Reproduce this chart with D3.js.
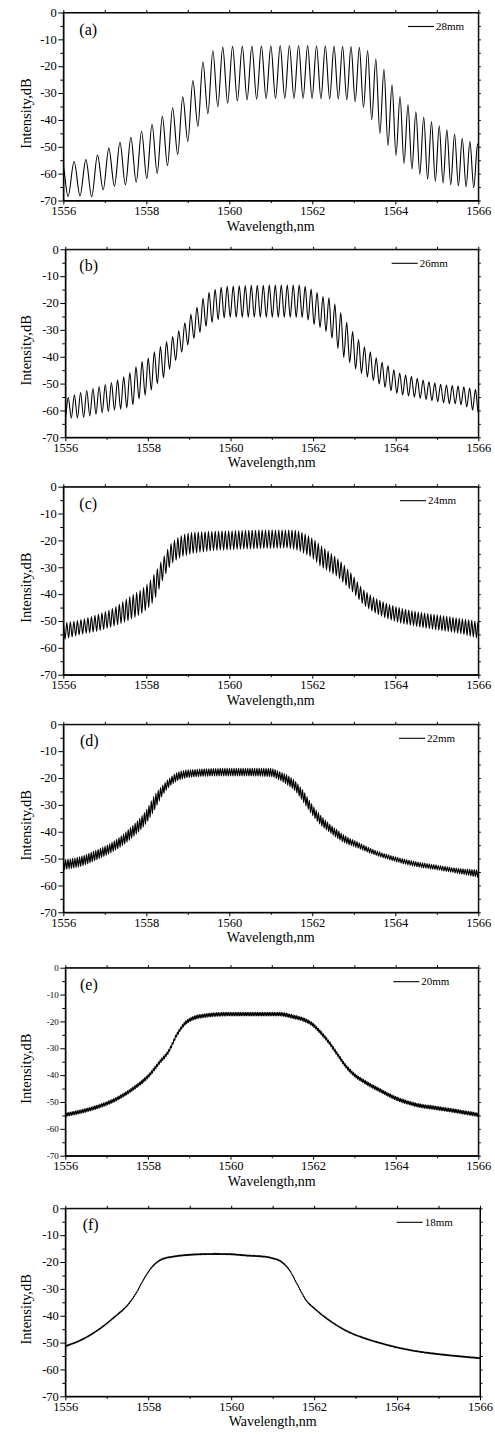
<!DOCTYPE html>
<html>
<head>
<meta charset="utf-8">
<script src="https://cdn.jsdelivr.net/npm/d3@7"></script>
<style>
  body { margin: 0; background: #fff; }
  text { font-family: "Liberation Serif", "Times New Roman", serif; fill: #000; }
</style>
</head>
<body>
<svg id="fig" width="495" height="1436"></svg>
<script>
// ---- data ----
const panelLabels = ["(a)", "(b)", "(c)", "(d)", "(e)", "(f)"];
const gratingLengths = ["28mm", "26mm", "24mm", "22mm", "20mm", "18mm"];
const xTickValues = [1556, 1558, 1560, 1562, 1564, 1566];
const xMinorValues = [1557, 1559, 1561, 1563, 1565];
const yTickValues = [0, -10, -20, -30, -40, -50, -60, -70];
const yMinorValues = [-5, -15, -25, -35, -45, -55, -65];

// envelopes (upper = fringe peaks, lower = fringe troughs), dB
const wlA = [1556, 1556.3, 1556.6, 1556.9, 1557.2, 1557.5, 1557.8, 1558.1, 1558.4, 1558.7, 1558.9, 1559.1, 1559.3, 1559.5, 1559.7, 1559.9, 1560.5, 1561.5, 1562.5, 1563.0, 1563.3, 1563.5, 1563.7, 1563.9, 1564.1, 1564.3, 1564.5, 1564.8, 1565.1, 1565.4, 1565.7, 1566];
const hiA = [-55, -55.5, -54.5, -52.5, -49.5, -47.5, -45, -42, -38.5, -34.5, -31, -26, -20, -15.5, -13.5, -12.8, -12.5, -12.3, -12.5, -12.8, -13.8, -16.8, -20.5, -26.4, -31, -34.3, -37, -40, -42.5, -45, -47.5, -49];
const loA = [-69, -68, -69, -66.5, -64.8, -64.2, -63, -61.2, -58.5, -53.8, -50.3, -45.7, -41.2, -37.5, -35.3, -34, -32.4, -32, -32.2, -33, -36.5, -41.8, -46.8, -51, -54.6, -57.3, -59.3, -62.2, -63.3, -64.3, -64.9, -65.4];

const wlB = [1556, 1556.4, 1556.8, 1557.2, 1557.6, 1557.8, 1558, 1558.2, 1558.4, 1558.6, 1558.8, 1559, 1559.2, 1559.4, 1559.6, 1559.8, 1560, 1561.7, 1561.9, 1562.05, 1562.2, 1562.4, 1562.57, 1562.73, 1562.9, 1563.05, 1563.2, 1563.38, 1563.54, 1563.7, 1563.86, 1564.02, 1564.4, 1564.8, 1565.2, 1565.6, 1566];
const hiB = [-55.5, -53.2, -51.2, -49.1, -45.5, -42.4, -40.6, -37.5, -35, -32.5, -29.4, -25, -21.3, -17, -15.1, -14.1, -13.7, -13.3, -14.5, -15.5, -17.4, -18.2, -21.3, -25, -29.4, -32.5, -35.6, -38.1, -40.6, -42.4, -43.7, -45.5, -47.4, -49.3, -50.5, -51.1, -52.4];
const loB = [-62.9, -62.7, -61.2, -59.9, -58.3, -55.5, -53.6, -50.5, -47.4, -43, -38.7, -35, -31.9, -28.8, -26.9, -25.7, -25.3, -25.3, -26.5, -28.3, -29.4, -31.9, -36.2, -40, -42.4, -44.9, -46.5, -48.2, -49.6, -51, -52.5, -53.6, -54.9, -56.1, -57.3, -58, -61];

const wlC = [1556, 1556.4, 1556.8, 1557.2, 1557.6, 1558, 1558.2, 1558.4, 1558.6, 1558.8, 1559, 1559.4, 1560, 1561.4, 1561.6, 1561.8, 1562, 1562.2, 1562.4, 1562.6, 1562.8, 1563, 1563.2, 1563.4, 1563.6, 1564, 1564.5, 1565, 1565.5, 1566];
const hiC = [-50.8, -49.6, -47.7, -45.2, -40.9, -36.6, -32.2, -26.6, -21.1, -18.6, -17.3, -16.7, -16.4, -16.1, -16.3, -17.3, -19.2, -21.7, -24.2, -26.6, -29.7, -33.5, -37.8, -40.3, -42.1, -44.6, -46.5, -47.7, -48.9, -50.2];
const loC = [-57, -55.1, -53.9, -52, -49.6, -45.9, -42.1, -34.7, -29.1, -26.6, -25.4, -24.2, -23.5, -22.9, -23.5, -24.8, -26.6, -29.7, -31.6, -33.5, -36.6, -39.7, -43.4, -45.9, -47.7, -50.2, -52, -53.3, -54.5, -56.5];

const wlD = [1556, 1556.4, 1556.8, 1557.2, 1557.6, 1558, 1558.2, 1558.4, 1558.6, 1558.8, 1559.2, 1560, 1561, 1561.2, 1561.4, 1561.6, 1561.8, 1562, 1562.2, 1562.4, 1562.6, 1562.8, 1563, 1563.5, 1564, 1564.5, 1565, 1565.5, 1566];
const hiD = [-50.5, -49.3, -46.8, -43.7, -38.7, -31.9, -26.3, -22.6, -19.5, -17.6, -16.8, -16.4, -16.4, -17.6, -18.9, -21.3, -25.1, -30, -33.8, -36.9, -39.3, -41.6, -43.1, -46.8, -49.3, -51.1, -52.4, -53.6, -54.2];
const loD = [-54.2, -53, -50.5, -47.4, -43.1, -36.9, -31.9, -26.3, -22.6, -20.7, -19.5, -19.2, -19.5, -20.7, -22.6, -25.1, -29.4, -33.8, -37.5, -40, -42.4, -44.3, -45.5, -48.6, -51.1, -53, -54.2, -55.5, -57];

const wlE = [1556, 1556.4, 1556.8, 1557.2, 1557.6, 1558, 1558.3, 1558.5, 1558.7, 1558.9, 1559.1, 1559.4, 1560, 1561.2, 1561.5, 1561.8, 1562, 1562.2, 1562.4, 1562.6, 1562.8, 1563, 1563.3, 1563.6, 1564, 1564.5, 1565, 1565.5, 1566];
const hiE = [-54.1, -52.8, -51, -48.5, -44.8, -39.8, -34.2, -30.5, -24.3, -20, -18.1, -17.1, -16.6, -16.6, -17.5, -18.8, -20.6, -23.7, -27.4, -31.8, -36.1, -39.2, -42.3, -44.8, -47.9, -50.4, -51.6, -52.8, -54.1];
const loE = [-55.5, -54.2, -52.4, -49.9, -46.2, -41.2, -35.6, -31.9, -25.7, -21.4, -19.5, -18.5, -18, -18, -18.9, -20.2, -22, -25.1, -28.8, -33.2, -37.5, -40.6, -43.7, -46.2, -49.3, -51.8, -53, -54.2, -55.5];

const wlF = [1556, 1556.4, 1556.8, 1557.2, 1557.5, 1557.7, 1557.9, 1558.1, 1558.3, 1558.6, 1559, 1559.6, 1560, 1560.4, 1560.8, 1561.0, 1561.2, 1561.4, 1561.6, 1561.8, 1562, 1562.4, 1562.8, 1563.2, 1563.6, 1564, 1564.5, 1565, 1565.5, 1566];
const hiF = [-51.2, -48.7, -45, -40.1, -35.9, -31.6, -26, -21.5, -19, -17.8, -17.1, -16.8, -16.9, -17.4, -17.8, -18.4, -19.6, -22.7, -28.3, -33.9, -37, -41.9, -45.6, -48.1, -50, -51.6, -53.1, -54.1, -54.9, -55.6];
const loF = [-51.6, -49.1, -45.4, -40.5, -36.3, -32, -26.4, -21.9, -19.4, -18.2, -17.5, -17.2, -17.3, -17.8, -18.2, -18.8, -20, -23.1, -28.7, -34.3, -37.4, -42.3, -46, -48.5, -50.4, -52, -53.5, -54.5, -55.3, -56];

// fringe spacing (nm) read at a few wavelengths, and the first peak position
const perWlA = [1556, 1558, 1560, 1561.5, 1563, 1565, 1566];
const perA = [0.29, 0.25, 0.235, 0.22, 0.2, 0.185, 0.185];
const perWlB = [1556, 1566];
const perB = [0.15, 0.14];
const perWlC = [1556, 1566];
const perC = [0.085, 0.075];
const perWlD = [1556, 1566];
const perD = [0.056, 0.054];
const perWlE = [1556, 1566];
const perE = [0.042, 0.04];
const perWlF = [1556, 1566];
const perF = [0.03, 0.03];
const firstPeak = [1555.97, 1556.07, 1556.0, 1556.0, 1556.0, 1556.0];

const wls = [wlA, wlB, wlC, wlD, wlE, wlF];
const his = [hiA, hiB, hiC, hiD, hiE, hiF];
const los = [loA, loB, loC, loD, loE, loF];
const perWls = [perWlA, perWlB, perWlC, perWlD, perWlE, perWlF];
const pers = [perA, perB, perC, perD, perE, perF];

// ---- layout ----
const plotTop = [12.5, 249.3, 486.7, 724.3, 967.7, 1208.3];
const plotLeft = [63.3, 65.3, 63.3, 63.3, 65.3, 65.3];
const plotRight = [478.3, 478.3, 478.3, 478.3, 478.3, 480];
const plotH = 188;
const legendX = [408, 391.7, 400, 399, 393.3, 396.7];
const labelX = [79.3, 79.3, 79.3, 80, 80, 82.7];
const yTickFont = [12.5, 12.5, 12.5, 12.5, 9, 12.5];

const svg = d3.select("#fig");

// smooth monotone cubic through the read envelope samples
function smoothEnvelope(xs, ys) {
  const n = xs.length, d = [], t = [];
  for (let k = 0; k < n - 1; k++) d.push((ys[k + 1] - ys[k]) / (xs[k + 1] - xs[k]));
  t[0] = d[0]; t[n - 1] = d[n - 2];
  for (let k = 1; k < n - 1; k++) t[k] = d[k - 1] * d[k] <= 0 ? 0 : (d[k - 1] + d[k]) / 2;
  for (let k = 0; k < n - 1; k++) {
    if (d[k] === 0) { t[k] = 0; t[k + 1] = 0; continue; }
    const a = t[k] / d[k], b = t[k + 1] / d[k], s = a * a + b * b;
    if (s > 9) { const tau = 3 / Math.sqrt(s); t[k] = tau * a * d[k]; t[k + 1] = tau * b * d[k]; }
  }
  return function(v) {
    if (v <= xs[0]) return ys[0];
    if (v >= xs[n - 1]) return ys[n - 1];
    const k = Math.min(d3.bisectRight(xs, v) - 1, n - 2);
    const h = xs[k + 1] - xs[k], s = (v - xs[k]) / h;
    const s2 = s * s, s3 = s2 * s;
    return (2 * s3 - 3 * s2 + 1) * ys[k] + (s3 - 2 * s2 + s) * h * t[k] +
      (-2 * s3 + 3 * s2) * ys[k + 1] + (s3 - s2) * h * t[k + 1];
  };
}

function fringePoints(i) {
  const hiS = smoothEnvelope(wls[i], his[i]);
  const loS = smoothEnvelope(wls[i], los[i]);
  const perS = d3.scaleLinear().domain(perWls[i]).range(pers[i]).clamp(true);
  const pts = [];
  let p = firstPeak[i];
  while (p > 1555.9) p -= perS(p);
  while (p < 1566.3) {
    const d = perS(p);
    pts.push([p, hiS(p)]);
    pts.push([p + d / 2, loS(p + d / 2)]);
    p += d;
  }
  return pts;
}

panelLabels.forEach(function(lab, i) {
  const top = plotTop[i], left = plotLeft[i], right = plotRight[i];
  const x = d3.scaleLinear().domain([1556, 1566]).range([left, right]);
  const y = d3.scaleLinear().domain([-70, 0]).range([top + plotH, top]);
  const g = svg.append("g");

  g.append("clipPath").attr("id", "clip" + i)
    .append("rect").attr("x", left).attr("y", top).attr("width", right - left).attr("height", plotH);

  const line = d3.line().x(d => x(d[0])).y(d => y(d[1])).curve(d3.curveMonotoneX);
  g.append("path")
    .datum(fringePoints(i))
    .attr("clip-path", "url(#clip" + i + ")")
    .attr("fill", "none")
    .attr("stroke", "#000")
    .attr("stroke-width", 1.1)
    .attr("d", line);

  // axes
  const bottom = g.append("g").attr("transform", "translate(0," + (top + plotH) + ")")
    .call(d3.axisBottom(x).tickValues(xTickValues).tickSize(4).tickSizeOuter(0).tickFormat(d => d));
  g.append("g").attr("transform", "translate(0," + (top + plotH) + ")")
    .call(d3.axisBottom(x).tickValues(xMinorValues).tickSize(2.5).tickSizeOuter(0).tickFormat(""));
  g.append("g").attr("transform", "translate(0," + top + ")")
    .call(d3.axisTop(x).tickValues(xTickValues.concat(xMinorValues)).tickSize(2.5).tickSizeOuter(0).tickFormat(""));

  const leftAx = g.append("g").attr("transform", "translate(" + left + ",0)")
    .call(d3.axisLeft(y).tickValues(yTickValues).tickSize(5).tickSizeOuter(0).tickFormat(d => String(d)));
  g.append("g").attr("transform", "translate(" + left + ",0)")
    .call(d3.axisLeft(y).tickValues(yMinorValues).tickSize(3).tickSizeOuter(0).tickFormat(""));
  g.append("g").attr("transform", "translate(" + right + ",0)")
    .call(d3.axisRight(y).tickValues(yTickValues.concat(yMinorValues)).tickSize(2.5).tickSizeOuter(0).tickFormat(""));

  g.selectAll(".domain").attr("stroke", "#000").attr("stroke-width", 1);
  g.selectAll(".tick line").attr("stroke", "#000").attr("stroke-width", 1);

  bottom.selectAll("text")
    .attr("font-family", "Liberation Serif, serif").attr("font-size", 12.5)
    .attr("fill", "#000").attr("y", 5.5);
  leftAx.selectAll("text")
    .attr("font-family", "Liberation Serif, serif").attr("font-size", yTickFont[i])
    .attr("fill", "#000").attr("x", -6.5).attr("dy", "0.3em");

  g.append("rect").attr("x", left).attr("y", top).attr("width", right - left).attr("height", plotH)
    .attr("fill", "none").attr("stroke", "#000").attr("stroke-width", 1);

  // titles
  g.append("text")
    .attr("x", (left + right) / 2).attr("y", top + plotH + 30)
    .attr("text-anchor", "middle").attr("font-size", 14)
    .text("Wavelength,nm");
  g.append("text")
    .attr("transform", "translate(31," + (top + 101) + ") rotate(-90)")
    .attr("text-anchor", "middle").attr("font-size", 14.5)
    .text("Intensity,dB");

  // panel label
  g.append("text").attr("x", labelX[i]).attr("y", top + 22)
    .attr("font-size", 16).text(lab);

  // legend
  const ly = top + 14;
  g.append("line").attr("x1", legendX[i]).attr("x2", legendX[i] + 26)
    .attr("y1", ly).attr("y2", ly).attr("stroke", "#000").attr("stroke-width", 1.1);
  g.append("text").attr("x", legendX[i] + 28).attr("y", ly + 3.5)
    .attr("font-size", 11).text(gratingLengths[i]);
});
</script>
</body>
</html>
